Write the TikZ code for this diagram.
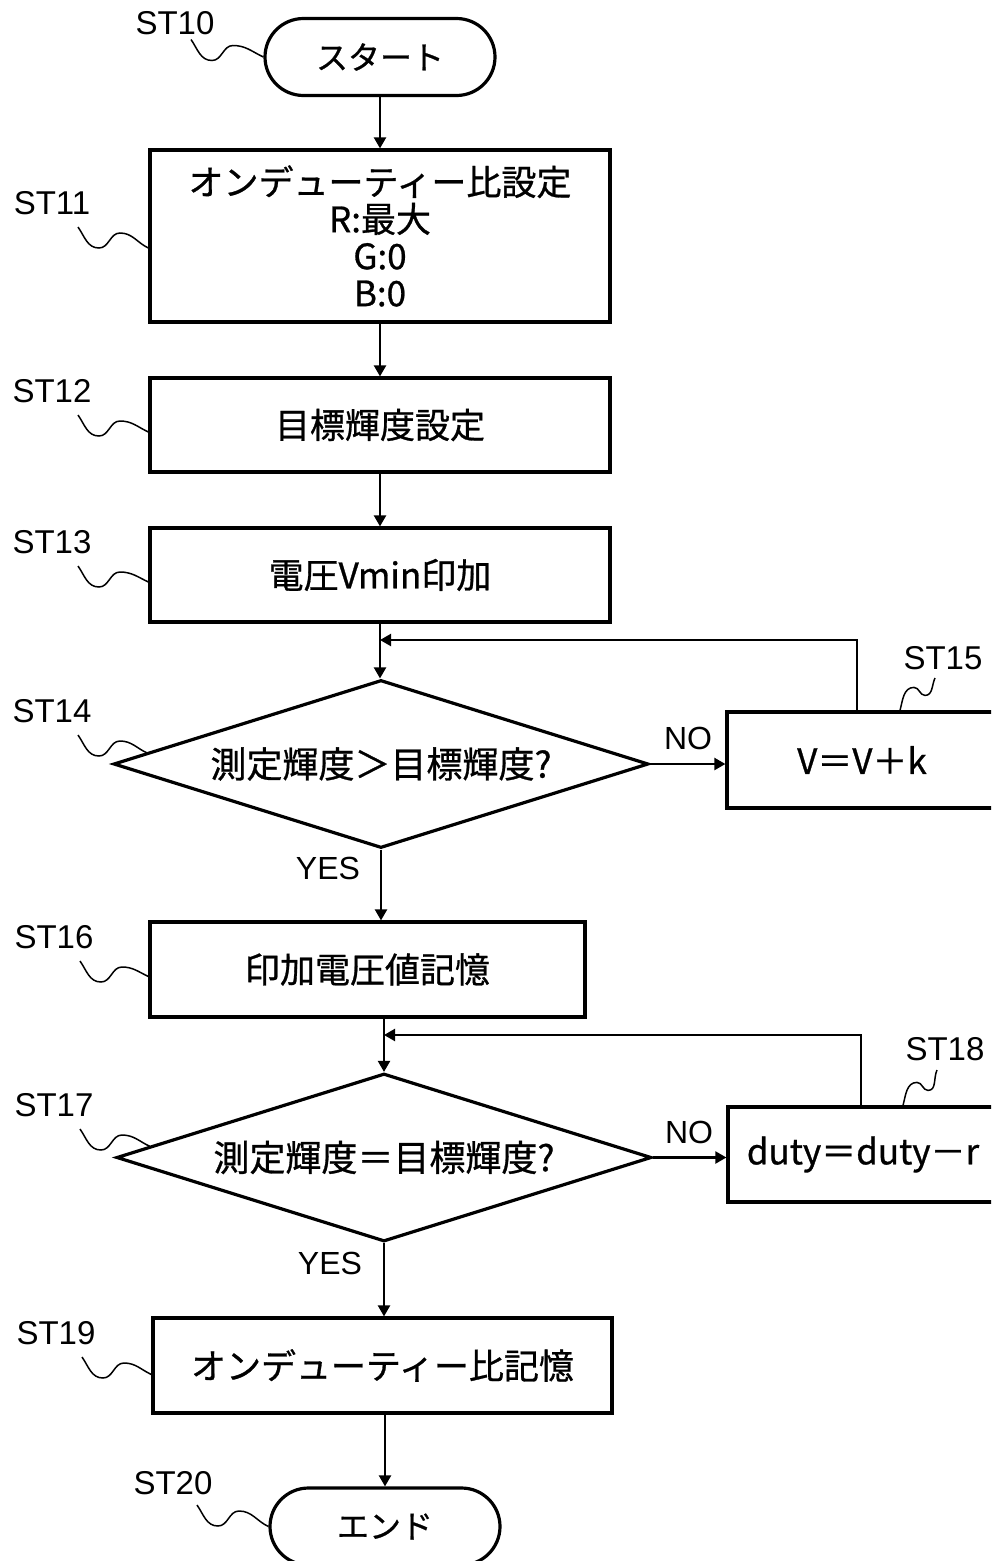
\documentclass[tikz,border=0pt]{standalone}
\usepackage{fontspec}
\setmainfont{Liberation Sans}
\newfontfamily\jp[FakeBold=0.8]{Noto Sans CJK JP}
\usetikzlibrary{shapes.geometric,arrows.meta,calc}

% wavy leader from a step tag down-right to its shape
\newcommand\leadL[2]{\draw[lead] #1 to[out=-55,in=180] ++(21,-21) to[out=0,in=180] ++(21,15) to[out=0,in=155] #2;}
% wavy leader from a shape's top edge up-right to its step tag
\newcommand\leadR[2]{\draw[lead] #2 to[out=75,in=180] ++(14,23) to[out=0,in=180] ++(11,-8) to[out=0,in=-115] #1;}

\begin{document}
\begin{tikzpicture}[x=1pt,y=1pt,
  box/.style={draw,line width=3.2pt,rectangle,inner sep=0pt,font=\jp\fontsize{35}{37}\selectfont},
  term/.style={draw,line width=3.2pt,rectangle,rounded corners=38.5pt,inner sep=0pt,
    minimum width=230pt,minimum height=77pt,font=\jp\fontsize{32}{36}\selectfont},
  dec/.style={draw,line width=3.2pt,diamond,aspect=3.18,inner sep=0pt,minimum width=535pt,minimum height=168pt,
    font=\jp\fontsize{36}{40}\selectfont},
  flow/.style={line width=2.2pt,-{Triangle[length=11pt,width=12pt]}},
  lead/.style={line width=1.5pt},
  tag/.style={inner sep=0pt,font=\fontsize{33}{38}\selectfont},
  yn/.style={inner sep=0pt,font=\fontsize{32}{38}\selectfont},
]
\useasboundingbox (0,0) rectangle (991,-1561);
\clip (0,0) rectangle (991,-1561);

% process steps
\node[term] (st10) at (380,-57) {スタート};
\node[box,minimum width=460pt,minimum height=172pt,align=center] (st11) at (380,-236)
  {オンデューティー比設定\\R:最大\\G:0\\B:0};
\node[box,minimum width=460pt,minimum height=94pt] (st12) at (380,-425) {目標輝度設定};
\node[box,minimum width=460pt,minimum height=94pt] (st13) at (380,-575) {電圧Vmin印加};
\node[dec] (st14) at (381,-764) {測定輝度＞目標輝度?};
\node[box,minimum width=270pt,minimum height=96pt] (st15) at (862,-760) {V＝V＋k};
\node[box,minimum width=435pt,minimum height=95pt] (st16) at (367.5,-969.5) {印加電圧値記憶};
\node[dec] (st17) at (384,-1157.5) {測定輝度＝目標輝度?};
\node[box,minimum width=270pt,minimum height=95pt] (st18) at (863,-1154.5) {duty＝duty－r};
\node[box,minimum width=459pt,minimum height=95pt] (st19) at (382.5,-1365.5) {オンデューティー比記憶};
\node[term] (st20) at (385,-1526.5) {エンド};

% step tags
\node[tag] (l10) at (175,-23.5) {ST10};
\node[tag] (l11) at (52,-203) {ST11};
\node[tag] (l12) at (52,-391) {ST12};
\node[tag] (l13) at (52,-542) {ST13};
\node[tag] (l14) at (52,-711) {ST14};
\node[tag] (l15) at (943,-658) {ST15};
\node[tag] (l16) at (54,-937) {ST16};
\node[tag] (l17) at (54,-1105) {ST17};
\node[tag] (l18) at (945,-1049) {ST18};
\node[tag] (l19) at (56,-1333) {ST19};
\node[tag] (l20) at (173,-1483) {ST20};

% branch labels
\node[yn] (no1) at (688,-738) {NO};
\node[yn] (yes1) at (328,-868) {YES};
\node[yn] (no2) at (689,-1132) {NO};
\node[yn] (yes2) at (330,-1263) {YES};

% main flow
\draw[flow] (st10) -- (st11);
\draw[flow] (st11) -- (st12);
\draw[flow] (st12) -- (st13);
\draw[flow] (st13.south) -- (st13.south |- st14.north);
\draw[flow] (st14.east) -- (st14.east -| st15.west);
\draw[flow] (st14.south) -- (st14.south |- st16.north);
\draw[flow] (st17.north |- st16.south) -- (st17.north);
\draw[flow] (st17.east) -- (st17.east -| st18.west);
\draw[flow] (st17.south) -- (st17.south |- st19.north);
\draw[flow] (st20.north |- st19.south) -- (st20.north);

% loops back
\coordinate (j14) at (380,-640);
\coordinate (j17) at (384,-1035);
\draw[flow] ([xshift=-5pt]st15.north) |- (j14);
\draw[flow] ([xshift=-2pt]st18.north) |- (j17);

% leaders
\leadL{($(l10)+(16,-16)$)}{(st10.west)}
\leadL{($(l11)+(26,-24)$)}{([yshift=-12pt]st11.west)}
\leadL{($(l12)+(26,-24)$)}{([yshift=-7pt]st12.west)}
\leadL{($(l13)+(26,-24)$)}{([yshift=-7pt]st13.west)}
\leadL{($(l14)+(26,-24)$)}{($(st14.west)!0.13!(st14.north)$)}
\leadL{($(l16)+(26,-24)$)}{([yshift=-7pt]st16.west)}
\leadL{($(l17)+(26,-24)$)}{($(st17.west)!0.13!(st17.north)$)}
\leadL{($(l19)+(26,-24)$)}{([yshift=-9pt]st19.west)}
\leadL{($(l20)+(24,-22)$)}{(st20.west)}
\leadR{($(l15)+(-8,-20)$)}{([xshift=38pt]st15.north)}
\leadR{($(l18)+(-8,-21)$)}{([xshift=40pt]st18.north)}
\end{tikzpicture}
\end{document}
